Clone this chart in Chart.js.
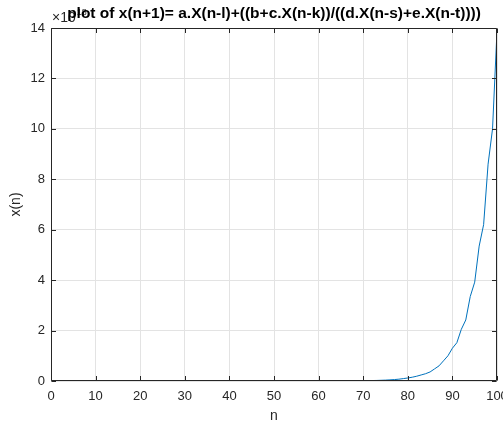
<!DOCTYPE html>
<html>
<head>
<meta charset="utf-8">
<script src="https://cdn.jsdelivr.net/npm/chart.js@4.4.1/dist/chart.umd.min.js"></script>
<style>
html,body{margin:0;padding:0;background:#fff;}
#wrap{width:503px;height:421px;}
</style>
</head>
<body>
<div id="wrap"><canvas id="c" width="503" height="421"></canvas></div>
<script>
const nValues = [1,2,3,4,5,6,7,8,9,10,11,12,13,14,15,16,17,18,19,20,21,22,23,24,25,26,27,28,29,30,31,32,33,34,35,36,37,38,39,40,41,42,43,44,45,46,47,48,49,50,51,52,53,54,55,56,57,58,59,60,61,62,63,64,65,66,67,68,69,70,71,72,73,74,75,76,77,78,79,80,81,82,83,84,85,86,87,88,89,90,91,92,93,94,95,96,97,98,99,100];
const xValues = [
  0.0000,0.0000,0.0000,0.0000,0.0000,0.0000,0.0000,0.0000,0.0000,0.0000,
  0.0000,0.0000,0.0000,0.0000,0.0000,0.0000,0.0000,0.0000,0.0000,0.0000,
  0.0000,0.0000,0.0000,0.0000,0.0000,0.0000,0.0000,0.0000,0.0000,0.0000,
  0.0000,0.0000,0.0000,0.0000,0.0000,0.0000,0.0000,0.0000,0.0001,0.0001,
  0.0001,0.0001,0.0001,0.0001,0.0001,0.0001,0.0002,0.0002,0.0002,0.0003,
  0.0003,0.0004,0.0004,0.0005,0.0006,0.0007,0.0008,0.0009,0.0010,0.0012,
  0.0015,0.0019,0.0024,0.0030,0.0038,0.0048,0.0060,0.0076,0.0095,0.012,
  0.014,0.018,0.022,0.028,0.035,0.045,0.057,0.072,0.095,0.12,
  0.15,0.19,0.24,0.29,0.36,0.48,0.60,0.80,1.00,1.30,
  1.52,2.05,2.42,3.35,3.92,5.35,6.20,8.60,10.0,13.9
];
const xTicks = [0,10,20,30,40,50,60,70,80,90,100];
const yTicks = [0,2,4,6,8,10,12,14];
const titleText = 'plot of x(n+1)= a.X(n-l)+((b+c.X(n-k))/((d.X(n-s)+e.X(n-t))))';
const xLabel = 'n';
const yLabel = 'x(n)';
const exponentBase = '\u00D710';
const exponentPower = '18';

const FONT = '"Liberation Sans", Arial, Helvetica, sans-serif';
const AXIS_COLOR = '#262626';

const framePlugin = {
  id: 'frame',
  beforeDraw(chart) {
    const {ctx} = chart;
    ctx.save();
    ctx.fillStyle = '#fff';
    ctx.fillRect(0, 0, chart.width, chart.height);
    ctx.restore();
  },
  afterDatasetsDraw(chart) {
    const {ctx, chartArea: a, scales} = chart;
    ctx.save();
    ctx.strokeStyle = AXIS_COLOR;
    ctx.lineWidth = 1;
    const L = Math.round(a.left) + 0.5, R = Math.round(a.right) - 0.5;
    const T = Math.round(a.top) + 0.5, B = Math.round(a.bottom) - 0.5;
    ctx.beginPath();
    ctx.rect(L, T, R - L, B - T);
    ctx.stroke();
    const tl = 4.5;
    ctx.beginPath();
    xTicks.forEach(v => {
      const px = Math.round(scales.x.getPixelForValue(v)) + 0.5;
      ctx.moveTo(px, B); ctx.lineTo(px, B - tl);
      ctx.moveTo(px, T); ctx.lineTo(px, T + tl);
    });
    yTicks.forEach(v => {
      const py = Math.round(scales.y.getPixelForValue(v)) + 0.5;
      ctx.moveTo(L, py); ctx.lineTo(L + tl, py);
      ctx.moveTo(R, py); ctx.lineTo(R - tl, py);
    });
    ctx.stroke();
    // exponent
    ctx.fillStyle = AXIS_COLOR;
    ctx.textBaseline = 'alphabetic';
    ctx.textAlign = 'left';
    ctx.font = '14px ' + FONT;
    ctx.fillText(exponentBase, 52, 22);
    const w = ctx.measureText(exponentBase).width;
    ctx.font = '9px ' + FONT;
    ctx.fillText(exponentPower, 52 + w + 1, 15);
    // title
    ctx.fillStyle = '#000';
    ctx.font = 'bold 15.5px ' + FONT;
    ctx.textAlign = 'center';
    ctx.textBaseline = 'alphabetic';
    ctx.fillText(titleText, (a.left + a.right) / 2, 18);
    ctx.restore();
  }
};

new Chart(document.getElementById('c'), {
  type: 'line',
  data: {
    datasets: [{
      data: nValues.map((n, i) => ({x: n, y: xValues[i]})),
      borderColor: '#0072BD',
      borderWidth: 1,
      pointRadius: 0,
      tension: 0,
      fill: false
    }]
  },
  options: {
    responsive: false,
    animation: false,
    devicePixelRatio: 1,
    layout: {padding: {left: 0, right: 6, top: 28, bottom: 0}},
    plugins: {legend: {display: false}, title: {display: false}, tooltip: {enabled: false}},
    scales: {
      x: {
        type: 'linear', min: 0, max: 100,
        afterBuildTicks(s) { s.ticks = xTicks.map(v => ({value: v})); },
        afterFit(s) { s.height = 40; s.paddingLeft = 0; s.paddingRight = 0; },
        grid: {color: '#e3e3e3', drawTicks: false, lineWidth: 1},
        border: {display: false},
        ticks: {color: AXIS_COLOR, font: {family: FONT, size: 13}, padding: 8, maxRotation: 0, autoSkip: false},
        title: {display: true, text: xLabel, color: AXIS_COLOR, font: {family: FONT, size: 14}, padding: {top: 0, bottom: -4}}
      },
      y: {
        type: 'linear', min: 0, max: 14,
        afterBuildTicks(s) { s.ticks = yTicks.map(v => ({value: v})); },
        afterFit(s) { s.width = 51; s.paddingTop = 0; s.paddingBottom = 0; },
        grid: {color: '#e3e3e3', drawTicks: false, lineWidth: 1},
        border: {display: false},
        ticks: {color: AXIS_COLOR, font: {family: FONT, size: 13}, padding: 6, autoSkip: false},
        title: {display: true, text: yLabel, color: AXIS_COLOR, font: {family: FONT, size: 14}, padding: {top: 8, bottom: 0}}
      }
    }
  },
  plugins: [framePlugin]
});
</script>
</body>
</html>
